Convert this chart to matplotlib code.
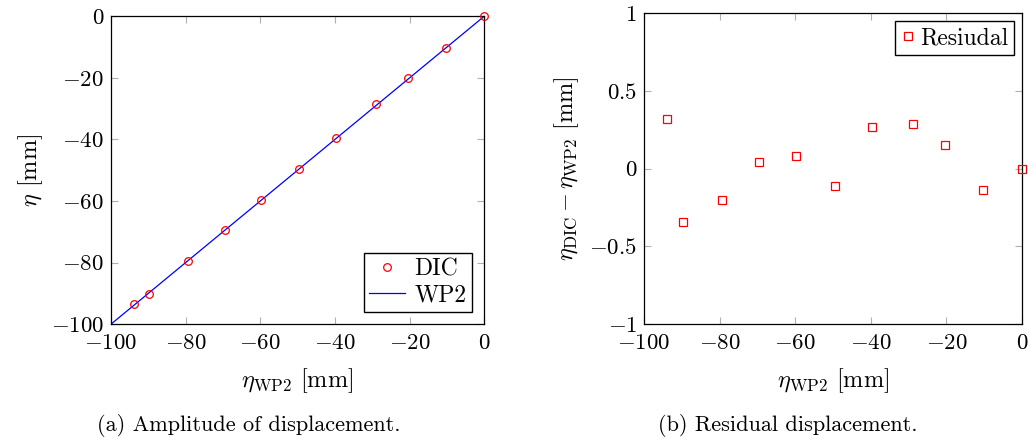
# Wave amplitude: DIC measurement against WP2 probe, plus residual
import matplotlib.pyplot as plt
import numpy as np
from matplotlib.ticker import FuncFormatter

plt.rcParams['font.family'] = 'serif'
plt.rcParams['font.serif'] = ['cmr10']
plt.rcParams['mathtext.fontset'] = 'cm'
plt.rcParams['axes.formatter.use_mathtext'] = True

wp2 = [-93.8, -89.8, -79.3, -69.5, -59.8, -49.6, -39.7, -28.9, -20.3, -10.2, 0.0]
residual = [0.32, -0.34, -0.20, 0.04, 0.08, -0.11, 0.27, 0.29, 0.15, -0.14, 0.0]
dic = np.array(wp2) + np.array(residual)
wp2_line = [-100, 0]

fig = plt.figure(figsize=(10.28, 4.41), dpi=100)
ax1 = fig.add_axes([0.108, 0.265, 0.363, 0.698])
ax2 = fig.add_axes([0.6265, 0.265, 0.3677, 0.705])

ax1.plot(wp2, dic, 'o', mfc='none', mec='red', ms=5.5, mew=0.9, label='DIC',
         clip_on=False, zorder=3)
ax1.plot(wp2_line, wp2_line, color='blue', lw=0.9, label='WP2')
ax1.set_xlim(-100, 0)
ax1.set_ylim(-100, 0)
ax1.set_xticks(np.arange(-100, 1, 20))
ax1.set_yticks(np.arange(-100, 1, 20))
ax1.set_xlabel(r'$\eta_{\mathrm{WP2}}$ [mm]', fontsize=17.5, labelpad=9)
ax1.set_ylabel(r'$\eta$ [mm]', fontsize=17.5, labelpad=4)
ax1.legend(loc='lower right', fontsize=17, fancybox=False, edgecolor='black',
           framealpha=1, borderpad=0.25, handlelength=1.5, handletextpad=0.4,
           labelspacing=0.15, borderaxespad=0.5)

ax2.plot(wp2, residual, 's', mfc='none', mec='red', ms=6, mew=0.9, label='Resiudal',
         clip_on=False, zorder=3)
ax2.set_xlim(-100, 0)
ax2.set_ylim(-1, 1)
ax2.set_xticks(np.arange(-100, 1, 20))
ax2.set_yticks([-1, -0.5, 0, 0.5, 1])
ax2.yaxis.set_major_formatter(FuncFormatter(lambda v, p: '$%g$' % v))
ax2.set_xlabel(r'$\eta_{\mathrm{WP2}}$ [mm]', fontsize=17.5, labelpad=9)
ax2.set_ylabel(r'$\eta_{\mathrm{DIC}} - \eta_{\mathrm{WP2}}$ [mm]', fontsize=17.5,
               labelpad=6)
ax2.legend(loc='upper right', fontsize=17, fancybox=False, edgecolor='black',
           framealpha=1, borderpad=0.25, handlelength=0.6, handletextpad=0.2,
           borderaxespad=0.35)

for ax in (ax1, ax2):
    ax.tick_params(direction='in', length=5, width=0.8, color='#b0b0b0',
                   top=True, right=True, labelsize=16.5, pad=5)
    ax.tick_params(axis='x', pad=7)
    for s in ax.spines.values():
        s.set_linewidth(0.9)
        s.set_zorder(2.5)

fig.text(0.242, 0.022, '(a) Amplitude of displacement.', ha='center', fontsize=16)
fig.text(0.766, 0.022, '(b) Residual displacement.', ha='center', fontsize=16)

plt.savefig('out.png', dpi=100)
